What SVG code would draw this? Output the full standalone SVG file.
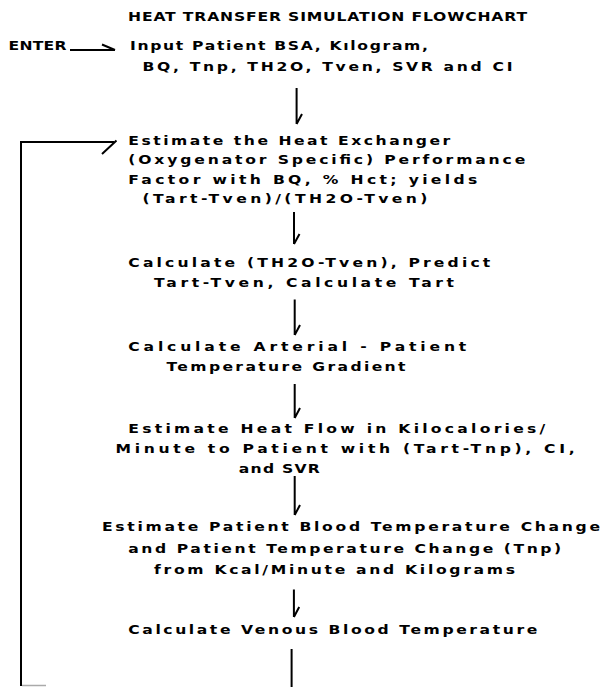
<svg xmlns="http://www.w3.org/2000/svg" width="604" height="687" viewBox="0 0 604 687">
<style>
text{font-family:"DejaVu Sans","Liberation Sans",sans-serif;font-size:13px;font-weight:bold;fill:#000}
.ln{stroke:#000;stroke-width:2;fill:none;stroke-linecap:butt}
</style>
<rect width="604" height="687" fill="#fff"/>
<g transform="scale(1.2 1)">
<g id="title"><text x="106.7" y="21.5" textLength="332.5" lengthAdjust="spacing">HEAT TRANSFER SIMULATION FLOWCHART</text></g>
<g id="enter"><text x="7.1" y="50" textLength="48.3" lengthAdjust="spacing">ENTER</text></g>
<g id="input">
<text x="108.3" y="50" textLength="248.3" lengthAdjust="spacing">Input Patient BSA, Kılogram,</text>
<text x="118.75" y="71.5" textLength="308.3" lengthAdjust="spacing">BQ, Tnp, TH2O, Tven, SVR and CI</text>
</g>
<g id="exchanger">
<text x="106.9" y="145" textLength="268.3" lengthAdjust="spacing">Estimate the Heat Exchanger</text>
<text x="106.9" y="164.5" textLength="330.8" lengthAdjust="spacing">(Oxygenator Specific) Performance</text>
<text x="106.9" y="184" textLength="290.8" lengthAdjust="spacing">Factor with BQ, % Hct; yields</text>
<text x="118.75" y="203.5" textLength="237.5" lengthAdjust="spacing">(Tart-Tven)/(TH2O-Tven)</text>
</g>
<g id="predict">
<text x="106.9" y="267.5" textLength="301.7" lengthAdjust="spacing">Calculate (TH2O-Tven), Predict</text>
<text x="128.4" y="287" textLength="250" lengthAdjust="spacing">Tart-Tven, Calculate Tart</text>
</g>
<g id="gradient">
<text x="106.9" y="351.5" textLength="281.7" lengthAdjust="spacing">Calculate Arterial - Patient</text>
<text x="138.7" y="371" textLength="199.2" lengthAdjust="spacing">Temperature Gradient</text>
</g>
<g id="heatflow">
<text x="106.9" y="433" textLength="347.5" lengthAdjust="spacing">Estimate Heat Flow in Kilocalories/</text>
<text x="96.3" y="453.5" textLength="382.5" lengthAdjust="spacing">Minute to Patient with (Tart-Tnp), CI,</text>
<text x="199" y="473.5" textLength="67.5" lengthAdjust="spacing">and SVR</text>
</g>
<g id="tempchange">
<text x="85" y="531" textLength="415" lengthAdjust="spacing">Estimate Patient Blood Temperature Change</text>
<text x="106.9" y="553.5" textLength="360.8" lengthAdjust="spacing">and Patient Temperature Change (Tnp)</text>
<text x="128.4" y="574" textLength="300.8" lengthAdjust="spacing">from Kcal/Minute and Kilograms</text>
</g>
<g id="venous"><text x="106.9" y="634" textLength="340.8" lengthAdjust="spacing">Calculate Venous Blood Temperature</text></g>
</g>
<g id="connectors">
<path class="ln" d="M70 50H115M102 44.5L115 50"/>
<path class="ln" d="M296.6 88V124M302 114L296.6 124"/>
<path class="ln" d="M294 212V244M299.5 234L294 244"/>
<path class="ln" d="M294.7 299.5V335M300 325L294.7 335"/>
<path class="ln" d="M294.7 384V418M300 408L294.7 418"/>
<path class="ln" d="M294.7 476V515M300 505L294.7 515"/>
<path class="ln" d="M293.9 589.5V617M299.2 607L293.9 617"/>
<path class="ln" d="M291.6 649V687"/>
<path class="ln" d="M21 686V142H114M116.5 140.5L102 154"/>
<path d="M22 685.5H46" stroke="#aaa" stroke-width="1.5"/>
</g>
</svg>
